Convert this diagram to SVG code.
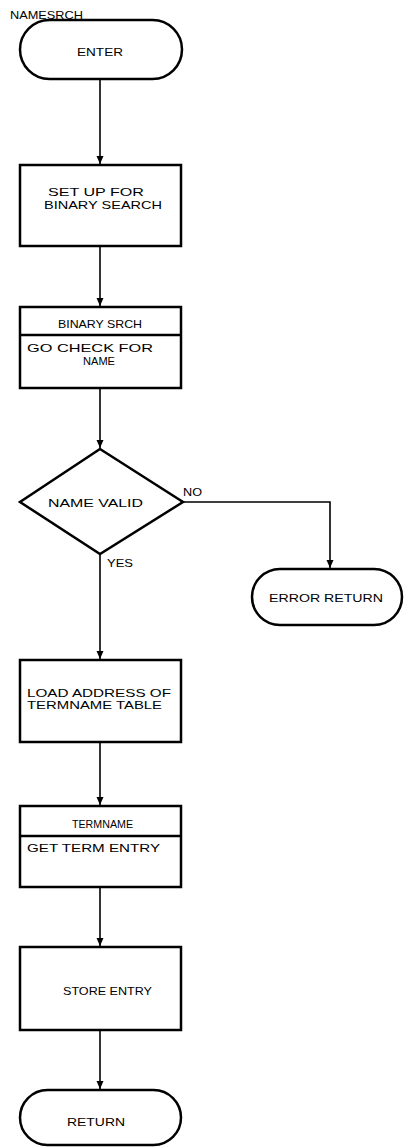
<svg xmlns="http://www.w3.org/2000/svg" width="404" height="1147" viewBox="0 0 404 1147">
<style>
.s{fill:#fff;stroke:#000;stroke-width:2.5}
.c{fill:none;stroke:#000;stroke-width:1.6}
text{font-family:"Liberation Sans",Arial,sans-serif;font-size:11.5px;fill:#000}
</style>
<defs>
<marker id="a" markerWidth="8" markerHeight="10" refX="8" refY="5" orient="auto" markerUnits="userSpaceOnUse">
<path d="M0,1.5 L8,5 L0,8.5 Z" fill="#000"/>
</marker>
</defs>
<rect width="404" height="1147" fill="#fff"/>
<g id="connectors">
<path class="c" d="M100,79 V164" marker-end="url(#a)"/>
<path class="c" d="M100,246 V306" marker-end="url(#a)"/>
<path class="c" d="M100,388 V448" marker-end="url(#a)"/>
<path class="c" d="M183,502 H330 V568" marker-end="url(#a)"/>
<path class="c" d="M100,554 V659" marker-end="url(#a)"/>
<path class="c" d="M100,742 V805" marker-end="url(#a)"/>
<path class="c" d="M100,887 V946" marker-end="url(#a)"/>
<path class="c" d="M100,1030 V1089" marker-end="url(#a)"/>
</g>
<text x="10" y="19" textLength="73" lengthAdjust="spacingAndGlyphs">NAMESRCH</text>
<g id="enter">
<rect class="s" x="20" y="20" width="162" height="59" rx="29.5"/>
<text x="77" y="56" textLength="46" lengthAdjust="spacingAndGlyphs">ENTER</text>
</g>
<g id="setup">
<rect class="s" x="20" y="165" width="161" height="81"/>
<text x="48" y="196" textLength="96" lengthAdjust="spacingAndGlyphs">SET UP FOR</text>
<text x="44" y="209" textLength="118" lengthAdjust="spacingAndGlyphs">BINARY SEARCH</text>
</g>
<g id="binsrch">
<rect class="s" x="20" y="307" width="161" height="81"/>
<line class="s" x1="20" y1="335" x2="181" y2="335"/>
<text x="58" y="328" textLength="84" lengthAdjust="spacingAndGlyphs">BINARY SRCH</text>
<text x="27" y="352" textLength="126" lengthAdjust="spacingAndGlyphs">GO CHECK FOR</text>
<text x="83" y="365" textLength="32" lengthAdjust="spacingAndGlyphs">NAME</text>
</g>
<g id="namevalid">
<polygon class="s" points="100,449 183,502 100,554 20,502"/>
<text x="48" y="507" textLength="95" lengthAdjust="spacingAndGlyphs">NAME VALID</text>
<text x="183" y="496" textLength="19" lengthAdjust="spacingAndGlyphs">NO</text>
<text x="107" y="567" textLength="26" lengthAdjust="spacingAndGlyphs">YES</text>
</g>
<g id="errorreturn">
<rect class="s" x="252" y="569" width="150" height="56" rx="28"/>
<text x="269" y="602" textLength="114" lengthAdjust="spacingAndGlyphs">ERROR RETURN</text>
</g>
<g id="loadaddr">
<rect class="s" x="20" y="660" width="161" height="82"/>
<text x="27" y="697" textLength="144" lengthAdjust="spacingAndGlyphs">LOAD ADDRESS OF</text>
<text x="27" y="709" textLength="135" lengthAdjust="spacingAndGlyphs">TERMNAME TABLE</text>
</g>
<g id="termname">
<rect class="s" x="20" y="806" width="161" height="81"/>
<line class="s" x1="20" y1="836" x2="181" y2="836"/>
<text x="72" y="828" textLength="61" lengthAdjust="spacingAndGlyphs">TERMNAME</text>
<text x="27" y="852" textLength="133" lengthAdjust="spacingAndGlyphs">GET TERM ENTRY</text>
</g>
<g id="store">
<rect class="s" x="20" y="947" width="161" height="83"/>
<text x="63" y="995" textLength="89" lengthAdjust="spacingAndGlyphs">STORE ENTRY</text>
</g>
<g id="return">
<rect class="s" x="20" y="1090" width="161" height="55" rx="27.5"/>
<text x="67" y="1126" textLength="58" lengthAdjust="spacingAndGlyphs">RETURN</text>
</g>
</svg>
